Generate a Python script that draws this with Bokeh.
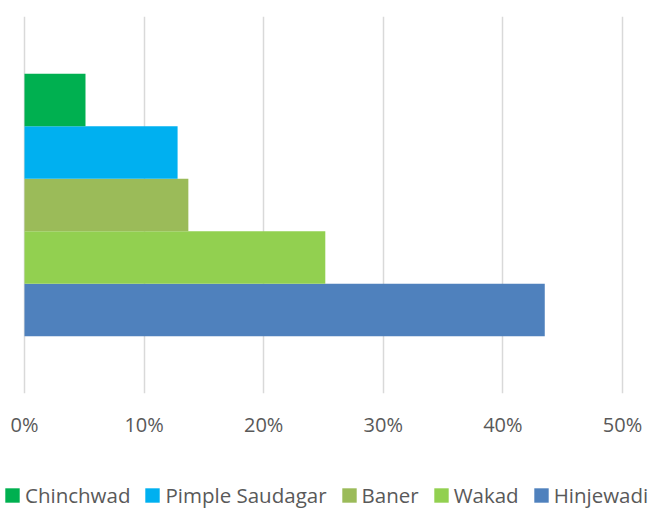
from bokeh.plotting import figure
from bokeh.layouts import column
from bokeh.models import FactorRange, Range1d, FixedTicker, NumeralTickFormatter, Legend, LegendItem, ColumnDataSource
from bokeh.embed import file_html
from bokeh.resources import INLINE

# Data (bottom to top in the chart)
areas = ["Hinjewadi", "Wakad", "Baner", "Pimple Saudagar", "Chinchwad"]
shares = [0.435, 0.2515, 0.137, 0.128, 0.051]
colors = ["#4F81BD", "#92D050", "#9BBB59", "#00B0F0", "#00B050"]
legend_order = ["Chinchwad", "Pimple Saudagar", "Baner", "Wakad", "Hinjewadi"]
x_ticks = [0, 0.1, 0.2, 0.3, 0.4, 0.5]

FONT = "Open Sans"
TXT = "#595959"

W = 650
# frame spans full width; 0% at 24px, 50% at 622px
x0 = -24 / 598 * 0.5
x1 = 0.5 + 28 / 598 * 0.5

p = figure(width=W, height=440, output_backend="svg", toolbar_location=None,
           y_range=FactorRange(factors=areas, range_padding=0.436),
           x_range=Range1d(x0, x1),
           min_border_left=0, min_border_right=0, min_border_top=16, min_border_bottom=45)
p.outline_line_color = None

for a, v, c in zip(areas, shares, colors):
    src = ColumnDataSource(dict(y=[a], right=[v]))
    p.hbar(y="y", right="right", left=0, height=1.0, source=src,
           fill_color=c, line_color=None)

p.yaxis.visible = False
p.ygrid.visible = False
p.xgrid.ticker = FixedTicker(ticks=x_ticks)
p.xgrid.grid_line_color = "#d9d9d9"
p.xgrid.grid_line_width = 1.5

xa = p.xaxis[0]
xa.ticker = FixedTicker(ticks=x_ticks)
xa.formatter = NumeralTickFormatter(format="0%")
xa.axis_line_color = None
xa.major_tick_line_color = None
xa.minor_tick_line_color = None
xa.major_label_text_font = FONT
xa.major_label_text_font_size = "20px"
xa.major_label_text_color = TXT
xa.major_label_standoff = 11

# Legend strip below the chart
lg = figure(width=W, height=70, output_backend="svg", toolbar_location=None,
            x_axis_type=None, y_axis_type=None,
            y_range=FactorRange(factors=areas), x_range=Range1d(0, 1),
            min_border_left=0, min_border_right=0, min_border_top=0, min_border_bottom=0)
lg.outline_line_color = None
lg.grid.visible = False
lrend = {}
for a, v, c in zip(areas, shares, colors):
    src = ColumnDataSource(dict(y=[a], right=[v]))
    r = lg.hbar(y="y", right="right", left=0, height=1.0, source=src,
                fill_color=c, line_color=None)
    r.visible = False
    lrend[a] = r

items = [LegendItem(label=n, renderers=[lrend[n]]) for n in legend_order]
leg = Legend(items=items, orientation="horizontal", location=(3, 1),
             label_text_font=FONT, label_text_font_size="20.5px", label_text_color=TXT,
             glyph_width=18, glyph_height=18, label_standoff=4, spacing=13,
             padding=0, margin=0, border_line_color=None, background_fill_alpha=0,
             label_height=20)
lg.add_layout(leg)

layout = column(p, lg, spacing=0)
open("out.html", "w").write(file_html(layout, INLINE))
